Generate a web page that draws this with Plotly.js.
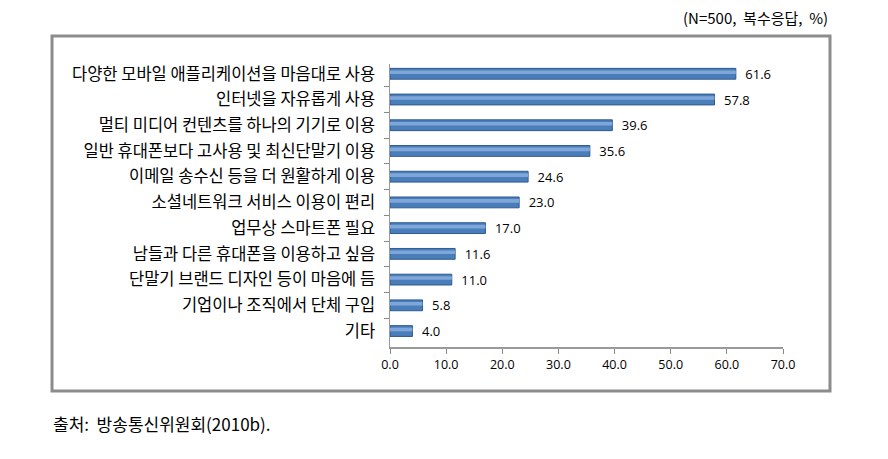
<!DOCTYPE html>
<html>
<head>
<meta charset="utf-8">
<script src="https://cdn.plot.ly/plotly-3.0.1.min.js"></script>
<style>html,body{margin:0;padding:0;background:#fff;}#chart{width:888px;height:459px;}</style>
</head>
<body>
<div id="chart"></div>
<script>
const categories = [
  "다양한 모바일 애플리케이션을 마음대로 사용",
  "인터넷을 자유롭게 사용",
  "멀티 미디어 컨텐츠를 하나의 기기로 이용",
  "일반 휴대폰보다 고사용 및 최신단말기 이용",
  "이메일 송수신 등을 더 원활하게 이용",
  "소셜네트워크 서비스 이용이 편리",
  "업무상 스마트폰 필요",
  "남들과 다른 휴대폰을 이용하고 싶음",
  "단말기 브랜드 디자인 등이 마음에 듬",
  "기업이나 조직에서 단체 구입",
  "기타"
];
const values = [61.6, 57.8, 39.6, 35.6, 24.6, 23.0, 17.0, 11.6, 11.0, 5.8, 4.0];
const xTicks = [0, 10, 20, 30, 40, 50, 60, 70];
const noteText = "(N=500,  복수응답,  %)";
const sourceText = "출처:  방송통신위원회(2010b).";

const kfont = "Noto Sans CJK KR, sans-serif";

const traces = [
  {
    type: "bar",
    orientation: "h",
    y: categories,
    x: values,
    width: 0.42,
    marker: {color: "#4A7EBB", line: {color: "#2F5A8E", width: 1}},
    text: values.map(v => "\u2002" + v.toFixed(1)),
    textposition: "outside",
    constraintext: "none",
    cliponaxis: false,
    textfont: {family: "Open Sans, sans-serif", size: 13, color: "#000"},
    hoverinfo: "none"
  },
  {
    type: "bar",
    orientation: "h",
    y: categories,
    x: values,
    width: 0.14,
    offset: -0.13,
    marker: {color: "#7FA6D8", line: {width: 0}},
    hoverinfo: "none"
  }
];

const layout = {
  width: 888,
  height: 459,
  margin: {l: 390, r: 105, t: 64, b: 112},
  paper_bgcolor: "#fff",
  plot_bgcolor: "#fff",
  showlegend: false,
  barmode: "overlay",
  font: {family: kfont, color: "#000"},
  xaxis: {
    range: [0, 70],
    tickvals: xTicks,
    ticktext: xTicks.map(v => v.toFixed(1)),
    ticks: "outside",
    ticklen: 5,
    tickcolor: "#888",
    showline: true,
    linecolor: "#999",
    linewidth: 1.5,
    showgrid: false,
    zeroline: false,
    tickfont: {family: "Open Sans, sans-serif", size: 12.5, color: "#000"},
    fixedrange: true
  },
  yaxis: {
    type: "category",
    range: [10.62, -0.38],
    ticks: "outside",
    tickson: "boundaries",
    ticklen: 5,
    tickcolor: "#888",
    showline: true,
    linecolor: "#999",
    linewidth: 1.5,
    showgrid: false,
    zeroline: false,
    ticklabelstandoff: 10,
    tickfont: {family: kfont, size: 16.5, color: "#000"},
    fixedrange: true
  },
  shapes: [
    {type: "rect", xref: "paper", yref: "paper",
     x0: -0.860, x1: 1.1196, y0: -0.1555, y1: 1.099,
     line: {color: "#8c8c8c", width: 3}, fillcolor: "rgba(0,0,0,0)"}
  ],
  annotations: [
    {text: noteText, xref: "paper", yref: "paper", x: 1.1196, y: 1.166,
     xanchor: "right", yanchor: "middle", showarrow: false,
     font: {family: kfont, size: 15, color: "#000"}},
    {text: sourceText, xref: "paper", yref: "paper", x: -0.862, y: -0.27,
     xanchor: "left", yanchor: "middle", showarrow: false,
     font: {family: kfont, size: 17, color: "#000"}}
  ]
};

Plotly.newPlot("chart", traces, layout, {displayModeBar: false, staticPlot: true});
</script>
</body>
</html>
